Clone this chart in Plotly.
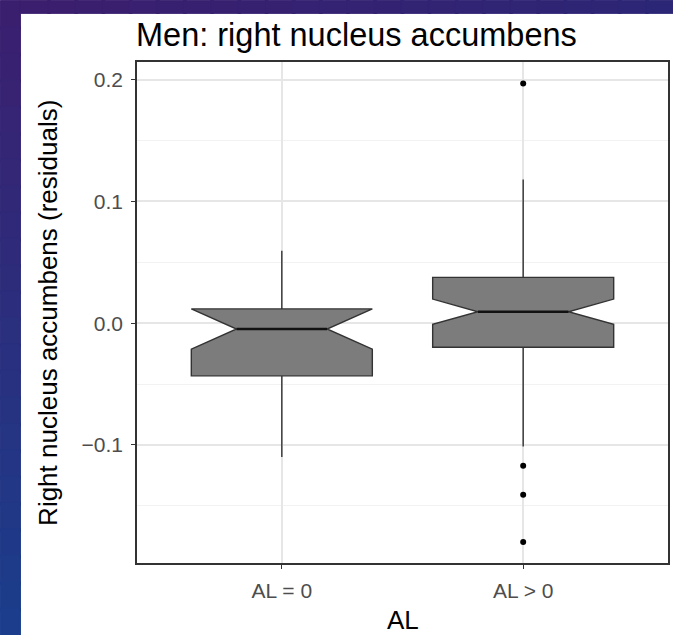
import plotly.graph_objects as go

# ---- data ----
categories = ["AL = 0", "AL > 0"]
q1 = [-0.0433, -0.0198]
median = [-0.0048, 0.0094]
q3 = [0.0117, 0.0376]
lower_whisker = [-0.110, -0.1013]
upper_whisker = [0.0595, 0.118]
notch_span = [0.0165, 0.0104]
outlier_group = [1, 1, 1, 1]
outlier_values = [0.1968, -0.1171, -0.141, -0.1797]

y_ticks = [-0.1, 0.0, 0.1, 0.2]
y_ticktext = ["\u22120.1", "0.0", "0.1", "0.2"]

# ---- style ----
W, H = 673, 635
ML, MR, MT, MB = 136.7, 4.7, 61.7, 71.7
BOX_W = 0.75
NOTCH_W = 0.25          # plotly: indent fraction on each side
FONT = "Liberation Sans, Arial, sans-serif"

xpos = list(range(len(categories)))

fig = go.Figure()
fig.add_trace(go.Box(
    x=xpos, q1=q1, median=median, q3=q3,
    lowerfence=lower_whisker, upperfence=upper_whisker,
    notched=True, notchspan=notch_span, notchwidth=NOTCH_W,
    width=BOX_W, whiskerwidth=0,
    fillcolor="#7c7c7c", line=dict(color="#333333", width=1.4),
    boxpoints=False, showlegend=False, hoverinfo="skip",
))

# thicker median line (ggplot fatten)
mx, my = [], []
half = BOX_W / 2 * (1 - 2 * NOTCH_W)
for i, m in zip(xpos, median):
    mx += [i - half, i + half, None]
    my += [m, m, None]
fig.add_trace(go.Scatter(x=mx, y=my, mode="lines",
                         line=dict(color="#111111", width=2.6),
                         showlegend=False, hoverinfo="skip"))

fig.add_trace(go.Scatter(
    x=[xpos[g] for g in outlier_group], y=outlier_values, mode="markers",
    marker=dict(color="black", size=6), showlegend=False, hoverinfo="skip"))

# ---- slide background strips ----
pw = W - ML - MR
ph = H - MT - MB
def px2x(p):
    return (p - ML) / pw
def py2y(p):
    return (H - MB - p) / ph

def lerp(c1, c2, t):
    return "#%02x%02x%02x" % tuple(int(round(a + (b - a) * t)) for a, b in zip(c1, c2))

shapes = []
top_c, bot_c = (60, 30, 110), (26, 62, 140)
n = 24
for k in range(n):
    y0p = H * k / n
    y1p = H * (k + 1) / n + 3
    c = lerp(top_c, bot_c, (k + 0.5) / n)
    shapes.append(dict(type="rect", xref="paper", yref="paper",
                       x0=px2x(0), x1=px2x(20), y0=py2y(y1p), y1=py2y(y0p),
                       fillcolor=c, line=dict(width=1, color=c), layer="below"))
right_c = (44, 38, 118)
for k in range(n):
    x0p = 20 + (W - 20) * k / n
    x1p = 20 + (W - 20) * (k + 1) / n + 3
    c = lerp(top_c, right_c, (k + 0.5) / n)
    shapes.append(dict(type="rect", xref="paper", yref="paper",
                       x0=px2x(x0p), x1=px2x(x1p), y0=py2y(13), y1=py2y(0),
                       fillcolor=c, line=dict(width=1, color=c), layer="below"))

fig.update_layout(
    width=W, height=H,
    margin=dict(l=ML, r=MR, t=MT, b=MB, pad=0),
    paper_bgcolor="white", plot_bgcolor="white",
    font=dict(family=FONT, color="black"),
    shapes=shapes,
    annotations=[
        dict(text="Men: right nucleus accumbens", xref="paper", yref="paper",
             x=px2x(134), y=py2y(35), xanchor="left", yanchor="middle",
             showarrow=False, font=dict(size=32.5, color="black", family=FONT)),
        dict(text="AL", xref="paper", yref="paper",
             x=0.5, y=py2y(620), xanchor="center", yanchor="middle",
             showarrow=False, font=dict(size=26, color="black", family=FONT)),
        dict(text="Right nucleus accumbens (residuals)", xref="paper", yref="paper",
             x=px2x(47), y=0.5, xanchor="center", yanchor="middle", textangle=-90,
             showarrow=False, font=dict(size=26, color="black", family=FONT)),
    ],
)

fig.update_xaxes(
    range=[-0.6, len(categories) - 0.4],
    tickmode="array", tickvals=xpos, ticktext=categories,
    ticks="outside", ticklen=4, tickwidth=1.4, tickcolor="#333333",
    tickfont=dict(size=21, color="#4d4d4d", family=FONT),
    showgrid=True, gridcolor="#e6e6e6", gridwidth=1.6,
    showline=True, linecolor="#333333", linewidth=1.6, mirror=True,
    zeroline=False, ticklabelstandoff=4,
)
fig.update_yaxes(
    range=[-0.197, 0.2145],
    tickmode="array", tickvals=y_ticks, ticktext=y_ticktext,
    ticks="outside", ticklen=4, tickwidth=1.4, tickcolor="#333333",
    tickfont=dict(size=21, color="#4d4d4d", family=FONT),
    showgrid=True, gridcolor="#e6e6e6", gridwidth=1.6,
    minor=dict(tickvals=[-0.15, -0.05, 0.05, 0.15], showgrid=True,
               gridcolor="#f2f2f2", gridwidth=1, ticks=""),
    showline=True, linecolor="#333333", linewidth=1.6, mirror=True,
    zeroline=False, ticklabelstandoff=4,
)

fig.write_html("out.html")
